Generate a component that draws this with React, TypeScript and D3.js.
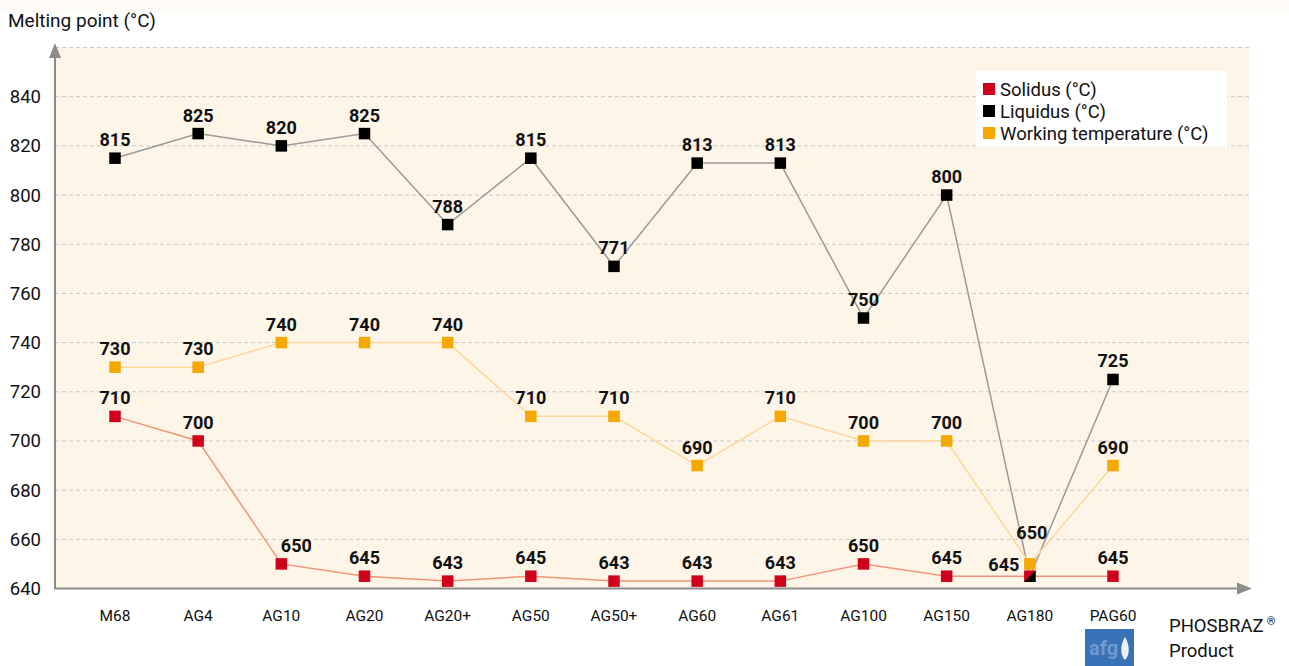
import { scaleLinear, scalePoint, line as d3_line } from "d3";

const categories = ["M68", "AG4", "AG10", "AG20", "AG20+", "AG50", "AG50+", "AG60", "AG61", "AG100", "AG150", "AG180", "PAG60"];
const solidus = [710, 700, 650, 645, 643, 645, 643, 643, 643, 650, 645, 645, 645];
const liquidus = [815, 825, 820, 825, 788, 815, 771, 813, 813, 750, 800, 645, 725];
const working = [730, 730, 740, 740, 740, 710, 710, 690, 710, 700, 700, 650, 690];
const yTicks = [640, 660, 680, 700, 720, 740, 760, 780, 800, 820, 840];
const gridValues = [660, 680, 700, 720, 740, 760, 780, 800, 820, 840, 860];
const legendItems = ["Solidus (°C)", "Liquidus (°C)", "Working temperature (°C)"];

const W = 1289;
const H = 666;
const FONT = "Roboto, 'Open Sans', sans-serif";

const RED = "#d0021b";
const BLACK = "#000000";
const ORANGE = "#f5a800";

export default function App() {
  const x = scalePoint<string>().domain(categories).range([115, 1113]);
  const y = scaleLinear().domain([640, 840]).range([588.5, 96.7]);

  const plotLeft = 55;
  const plotRight = 1249;
  const plotTop = y(860);
  const plotBottom = y(640);

  const mk = (vals: number[]) =>
    d3_line<number>()
      .x((_, i) => x(categories[i]) ?? 0)
      .y((v) => y(v))(vals) ?? "";

  const series = [
    { name: "solidus", vals: solidus, marker: RED, line: "#f0957a" },
    { name: "liquidus", vals: liquidus, marker: BLACK, line: "#9a9a9a" },
    { name: "working", vals: working, marker: ORANGE, line: "#fdd79c" },
  ];
  const S = 11.5;

  return (
    <svg width={W} height={H} style={{ position: "absolute", left: 0, top: 0, background: "#fff" }} fontFamily={FONT}>
      <rect x={0} y={0} width={W} height={13} fill="#fffcf8" />
      {/* plot background */}
      <rect x={plotLeft} y={plotTop} width={plotRight - plotLeft} height={plotBottom - plotTop} fill="#fdf5e8" />

      {/* grid */}
      {gridValues.map((v) => (
        <line key={v} x1={plotLeft} x2={plotRight} y1={y(v)} y2={y(v)} stroke="#c9c9c9" strokeWidth={1} strokeDasharray="4,3" />
      ))}

      {/* y tick labels */}
      {yTicks.map((v) => (
        <text key={v} x={41} y={y(v) + 6.5} textAnchor="end" fontSize={18.5} fill="#111">
          {v}
        </text>
      ))}

      <text x={8} y={27} fontSize={19} fill="#111">Melting point (°C)</text>

      {/* axes */}
      <line x1={plotLeft} x2={plotLeft} y1={plotBottom} y2={57} stroke="#8c8c8c" strokeWidth={2} />
      <path d={`M${plotLeft - 6},58 L${plotLeft + 6},58 L${plotLeft},43 Z`} fill="#8c8c8c" />
      <line x1={plotLeft - 1} x2={1238} y1={plotBottom} y2={plotBottom} stroke="#8c8c8c" strokeWidth={2} />
      <path d={`M1237,${plotBottom - 6} L1237,${plotBottom + 6} L1252,${plotBottom} Z`} fill="#8c8c8c" />

      {/* x labels */}
      {categories.map((c) => (
        <text key={c} x={x(c)} y={621} textAnchor="middle" fontSize={15.5} fill="#111">
          {c}
        </text>
      ))}

      {/* lines */}
      {series.map((s) => (
        <path key={s.name} d={mk(s.vals)} fill="none" stroke={s.line} strokeWidth={1.5} />
      ))}

      {/* markers */}
      {series.map((s) =>
        s.vals.map((v, i) => {
          const cx = x(categories[i]) ?? 0;
          const cy = y(v);
          if (s.name === "liquidus" && v === solidus[i]) {
            // overlaps the solidus marker: only the lower-right half shows
            return (
              <path
                key={s.name + i}
                d={`M${cx + S / 2},${cy - S / 2} L${cx + S / 2},${cy + S / 2} L${cx - S / 2},${cy + S / 2} Z`}
                fill={s.marker}
              />
            );
          }
          return <rect key={s.name + i} x={cx - S / 2} y={cy - S / 2} width={S} height={S} fill={s.marker} />;
        })
      )}

      {/* value labels */}
      {series.map((s) =>
        s.vals.map((v, i) => {
          if (s.name === "liquidus" && v === solidus[i]) return null;
          const cx = x(categories[i]) ?? 0;
          const cy = y(v);
          let dx = 0;
          let dy = -12;
          if (s.name === "solidus" && categories[i] === "AG10") dx = 15;
          if (s.name === "solidus" && categories[i] === "AG180") {
            dx = -26;
            dy = -5;
          }
          if (s.name === "working" && categories[i] === "AG180") {
            dx = 2;
            dy = -25;
          }
          return (
            <text key={"l" + s.name + i} x={cx + dx} y={cy + dy} textAnchor="middle" fontSize={18} fontWeight={700} fill="#111">
              {v}
            </text>
          );
        })
      )}

      {/* legend */}
      <rect x={976} y={71} width={251} height={76} fill="#fff" />
      {legendItems.map((t, i) => (
        <g key={t} transform={`translate(983,${83 + i * 22})`}>
          <rect x={0} y={0} width={12} height={12} fill={[RED, BLACK, ORANGE][i]} />
          <text x={17} y={12.5} fontSize={18.5} fill="#111">
            {t}
          </text>
        </g>
      ))}

      {/* brand */}
      <rect x={1085} y={629} width={49} height={40} fill="#3a72b8" />
      <text x={1089} y={655} fontSize={20} fill="#6f9bd2" fontWeight={700}>afg</text>
      <path d="M1125,637 C1130,645 1130,655 1125,660 C1120,655 1120,645 1125,637 Z" fill="#ffffff" opacity={0.9} />
      <text x={1169} y={632} fontSize={18.5} fill="#111">
        PHOSBRAZ<tspan fontSize={11} dy={-7} dx={3}>®</tspan>
      </text>
      <text x={1169} y={657} fontSize={18.5} fill="#111">Product</text>
    </svg>
  );
}
